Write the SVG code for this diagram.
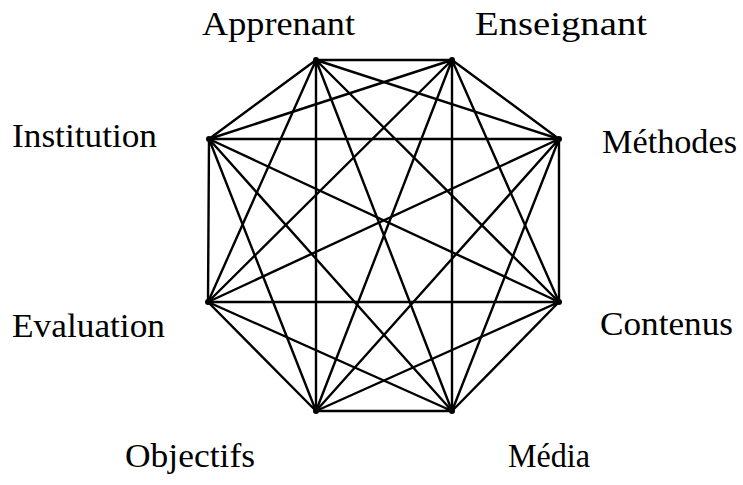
<svg xmlns="http://www.w3.org/2000/svg" width="743" height="485" viewBox="0 0 743 485">
<style>
.e{stroke:#000;stroke-width:2.4;fill:none;stroke-linecap:round}
.t{font-family:"Liberation Serif","Times New Roman",serif;font-size:34px;fill:#000}
.d{fill:#000}
</style>
<rect width="743" height="485" fill="#fff"/>
<g id="connectors">
<path class="e" d="M316,60L452,60M316,60L559,139M316,60L559,302M316,60L452,411M316,60L316,411M316,60L208,302M316,60L209,139"/>
<path class="e" d="M452,60L559,139M452,60L559,302M452,60L452,411M452,60L316,411M452,60L208,302M452,60L209,139"/>
<path class="e" d="M559,139L559,302M559,139L452,411M559,139L316,411M559,139L208,302M559,139L209,139"/>
<path class="e" d="M559,302L452,411M559,302L316,411M559,302L208,302M559,302L209,139"/>
<path class="e" d="M452,411L316,411M452,411L208,302M452,411L209,139"/>
<path class="e" d="M316,411L208,302M316,411L209,139"/>
<path class="e" d="M208,302L209,139"/>
</g>
<g id="apprenant"><circle class="d" cx="316" cy="60" r="3"/><text class="t" x="202" y="35" textLength="153" lengthAdjust="spacingAndGlyphs">Apprenant</text></g>
<g id="enseignant"><circle class="d" cx="452" cy="60" r="3"/><text class="t" x="475" y="35" textLength="172" lengthAdjust="spacingAndGlyphs">Enseignant</text></g>
<g id="methodes"><circle class="d" cx="559" cy="139" r="3"/><text class="t" x="602" y="153" textLength="135" lengthAdjust="spacingAndGlyphs">Méthodes</text></g>
<g id="contenus"><circle class="d" cx="559" cy="302" r="3"/><text class="t" x="600" y="335" textLength="133" lengthAdjust="spacingAndGlyphs">Contenus</text></g>
<g id="media"><circle class="d" cx="452" cy="411" r="3"/><text class="t" x="508" y="467" textLength="82" lengthAdjust="spacingAndGlyphs">Média</text></g>
<g id="objectifs"><circle class="d" cx="316" cy="411" r="3"/><text class="t" x="125" y="467" textLength="130" lengthAdjust="spacingAndGlyphs">Objectifs</text></g>
<g id="evaluation"><circle class="d" cx="208" cy="302" r="3"/><text class="t" x="12" y="337" textLength="153" lengthAdjust="spacingAndGlyphs">Evaluation</text></g>
<g id="institution"><circle class="d" cx="209" cy="139" r="3"/><text class="t" x="12" y="147" textLength="145" lengthAdjust="spacingAndGlyphs">Institution</text></g>
</svg>
